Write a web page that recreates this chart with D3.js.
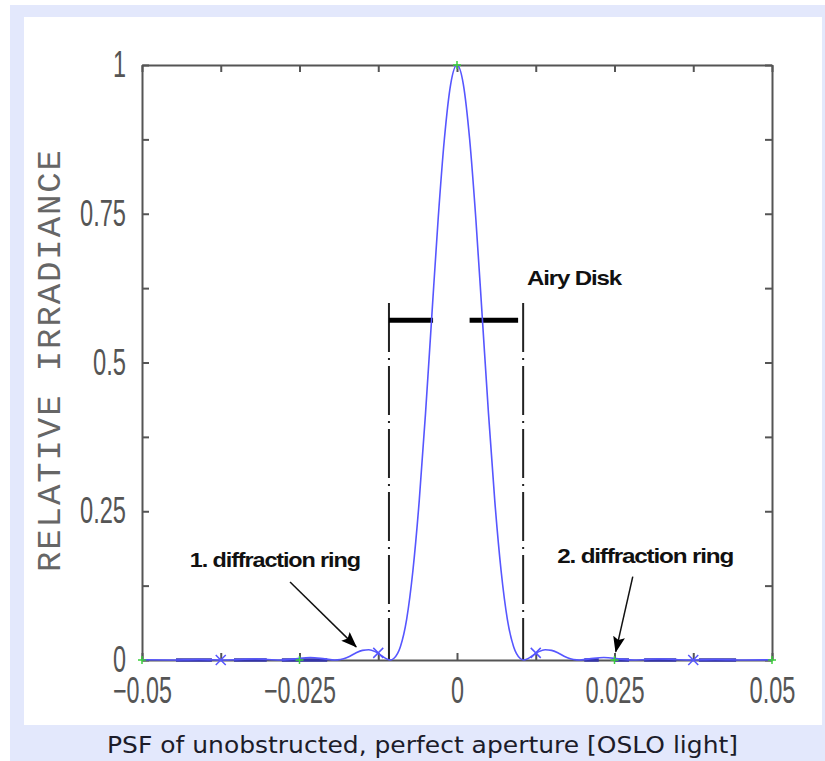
<!DOCTYPE html>
<html>
<head>
<meta charset="utf-8">
<script src="https://cdn.jsdelivr.net/npm/d3@7"></script>
<style>
  body { margin: 0; background: #fff; }
  svg { display: block; }
</style>
</head>
<body>
<svg id="chart" width="825" height="761"></svg>
<script>
// curve (position on image plane, relative irradiance)
const psfX = [-0.05, -0.0457, -0.041, -0.0369, -0.032, -0.0281, -0.026, -0.0233, -0.021, -0.0194,
  -0.019, -0.018, -0.017, -0.016, -0.015, -0.014, -0.013, -0.012, -0.0106, -0.010, -0.009, -0.008,
  -0.007, -0.006, -0.005, -0.004, -0.003, -0.002, -0.001, 0, 0.001, 0.002, 0.003, 0.004, 0.005,
  0.006, 0.007, 0.008, 0.009, 0.010, 0.0106, 0.012, 0.013, 0.014, 0.015, 0.016, 0.017, 0.018, 0.019,
  0.0194, 0.021, 0.0233, 0.026, 0.0281, 0.032, 0.0369, 0.041, 0.0457, 0.05];
const psfY = [0.0004, 0, 0.0008, 0, 0.0016, 0, 0.0015, 0.0042, 0.0019, 0,
  0.0002, 0.0022, 0.0064, 0.0122, 0.0162, 0.0173, 0.0141, 0.0072, 0, 0.003, 0.022, 0.068,
  0.150, 0.267, 0.414, 0.578, 0.740, 0.876, 0.968, 1.0, 0.968, 0.876, 0.740, 0.578, 0.414,
  0.267, 0.150, 0.068, 0.022, 0.003, 0, 0.0072, 0.0141, 0.0173, 0.0162, 0.0122, 0.0064, 0.0022, 0.0002,
  0, 0.0019, 0.0042, 0.0015, 0, 0.0016, 0, 0.0008, 0, 0.0004];

// point markers
const plusX = [-0.05, -0.025, 0, 0.025, 0.05];
const plusY = [0, 0, 1, 0, 0];
const crossX = [-0.0375, -0.0125, 0.0125, 0.0375];
const crossY = [0, 0.012, 0.012, 0];

// dark dashes lying on the zero line
const dashStart = [-0.0446, -0.0354, -0.0278, 0.0202, 0.0249, 0.0297, 0.0384];
const dashEnd = [-0.0389, -0.0302, -0.0206, 0.0225, 0.0273, 0.0348, 0.0443];

// axis ticks
const xTicks = [-0.05, -0.0375, -0.025, -0.0125, 0, 0.0125, 0.025, 0.0375, 0.05];
const xTickLabels = ["\u22120.05", "", "\u22120.025", "", "0", "", "0.025", "", "0.05"];
const yTicks = [0, 0.125, 0.25, 0.375, 0.5, 0.625, 0.75, 0.875, 1];
const yTickLabels = ["0", "", "0.25", "", "0.5", "", "0.75", "", "1"];

// Airy disk marking
const airyEdges = [-0.0108, 0.0105];
const airyTop = 0.60;
const airyBarY = 0.571;
const airyBarsX = [[-0.0108, -0.0038], [0.0020, 0.0097]];

// notes and arrows [x, y]
const notes = [
  { text: "Airy Disk", x: 0.0111, y: 0.630, len: 94 },
  { text: "1. diffraction ring", x: -0.0424, y: 0.156, len: 170 },
  { text: "2. diffraction ring", x: 0.0159, y: 0.163, len: 176 }
];
const arrows = [
  { from: [-0.0265, 0.131], to: [-0.0160, 0.022] },
  { from: [0.0279, 0.140], to: [0.0252, 0.014] }
];

const caption = "PSF of unobstructed, perfect aperture [OSLO light]";

const svg = d3.select("#chart");
const lavender = "#e3e8fc";

// frame
svg.append("rect").attr("x", 10).attr("y", 5).attr("width", 815).attr("height", 756).attr("fill", lavender);
svg.append("rect").attr("x", 24).attr("y", 17).attr("width", 798).attr("height", 708).attr("fill", "#fff");

var x = d3.scaleLinear().domain([-0.05, 0.05]).range([142, 772]);
var y = d3.scaleLinear().domain([0, 1]).range([660, 65]);

var axisColor = "#555";

// the plotter font is narrow: squeeze each label to its width
function labelWidth(s) {
  var w = 0;
  for (var c of s) {
    w += c === "." ? 7 : c === "\u2212" ? 13 : 13;
  }
  return w;
}

function styleAxis(g) {
  g.select(".domain").attr("stroke", axisColor).attr("stroke-width", 2);
  g.selectAll(".tick line").attr("stroke", axisColor).attr("stroke-width", 2);
  g.selectAll(".tick text")
    .attr("fill", "#555")
    .style("font-family", "'Liberation Sans', Arial, sans-serif")
    .style("font-size", "36px")
    .each(function () {
      var t = d3.select(this);
      if (t.text()) {
        t.attr("textLength", labelWidth(t.text())).attr("lengthAdjust", "spacingAndGlyphs");
      }
    });
}

svg.append("g")
  .attr("transform", "translate(0," + y(0) + ")")
  .call(d3.axisBottom(x).tickValues(xTicks).tickSize(-7).tickSizeOuter(0).tickPadding(17)
    .tickFormat(function (d, i) { return xTickLabels[i]; }))
  .call(styleAxis);

svg.append("g")
  .attr("transform", "translate(" + x(-0.05) + ",0)")
  .call(d3.axisLeft(y).tickValues(yTicks).tickSize(-7).tickSizeOuter(0).tickPadding(16)
    .tickFormat(function (d, i) { return yTickLabels[i]; }))
  .call(styleAxis);

svg.append("g")
  .attr("transform", "translate(0," + y(1) + ")")
  .call(d3.axisTop(x).tickValues(xTicks).tickSize(-7).tickSizeOuter(0).tickFormat(""))
  .call(styleAxis);

svg.append("g")
  .attr("transform", "translate(" + x(0.05) + ",0)")
  .call(d3.axisRight(y).tickValues(yTicks).tickSize(-7).tickSizeOuter(0).tickFormat(""))
  .call(styleAxis);

// y title
svg.append("text")
  .attr("transform", "translate(60,361) rotate(-90)")
  .attr("text-anchor", "middle")
  .attr("textLength", 422)
  .attr("lengthAdjust", "spacing")
  .style("font-family", "'Liberation Mono', 'Courier New', monospace")
  .style("font-size", "34px")
  .attr("fill", "#666")
  .text("RELATIVE IRRADIANCE");

// dashes on the zero line
svg.append("g")
  .selectAll("line")
  .data(dashStart)
  .enter()
  .append("line")
  .attr("x1", function (d) { return x(d); })
  .attr("x2", function (d, i) { return x(dashEnd[i]); })
  .attr("y1", y(0))
  .attr("y2", y(0))
  .attr("stroke", "#3434a8")
  .attr("stroke-width", 3.5);

// Airy disk marks
svg.append("g")
  .selectAll("line")
  .data(airyEdges)
  .enter()
  .append("line")
  .attr("x1", function (d) { return x(d); })
  .attr("x2", function (d) { return x(d); })
  .attr("y1", y(airyTop))
  .attr("y2", y(0))
  .attr("stroke", "#222")
  .attr("stroke-width", 2)
  .attr("stroke-dasharray", "49,6,2,6");

svg.append("g")
  .selectAll("line")
  .data(airyBarsX)
  .enter()
  .append("line")
  .attr("x1", function (d) { return x(d[0]); })
  .attr("x2", function (d) { return x(d[1]); })
  .attr("y1", y(airyBarY))
  .attr("y2", y(airyBarY))
  .attr("stroke", "#000")
  .attr("stroke-width", 5);

// PSF curve
var psf = psfX.map(function (d, i) { return [d, psfY[i]]; });
svg.append("path")
  .datum(psf)
  .attr("fill", "none")
  .attr("stroke", "#5656ff")
  .attr("stroke-width", 1.6)
  .attr("d", d3.line()
    .x(function (d) { return x(d[0]); })
    .y(function (d) { return y(d[1]); })
    .curve(d3.curveMonotoneX));

// markers
svg.append("g")
  .selectAll("path")
  .data(plusX)
  .enter()
  .append("path")
  .attr("transform", function (d, i) { return "translate(" + x(d) + "," + y(plusY[i]) + ")"; })
  .attr("d", "M-4,0H4M0,-4V4")
  .attr("stroke", "#3ccf3c")
  .attr("stroke-width", 1.5);

svg.append("g")
  .selectAll("path")
  .data(crossX)
  .enter()
  .append("path")
  .attr("transform", function (d, i) { return "translate(" + x(d) + "," + y(crossY[i]) + ")"; })
  .attr("d", "M-5,-5L5,5M-5,5L5,-5")
  .attr("stroke", "#5656ff")
  .attr("stroke-width", 1.5);

// arrows
svg.append("defs").append("marker")
  .attr("id", "head")
  .attr("viewBox", "0 0 16 12")
  .attr("refX", 15)
  .attr("refY", 6)
  .attr("markerWidth", 16)
  .attr("markerHeight", 12)
  .attr("markerUnits", "userSpaceOnUse")
  .attr("orient", "auto")
  .append("path")
  .attr("d", "M0,0L16,6L0,12L3,6Z")
  .attr("fill", "#000");

svg.append("g")
  .selectAll("line")
  .data(arrows)
  .enter()
  .append("line")
  .attr("x1", function (d) { return x(d.from[0]); })
  .attr("y1", function (d) { return y(d.from[1]); })
  .attr("x2", function (d) { return x(d.to[0]); })
  .attr("y2", function (d) { return y(d.to[1]); })
  .attr("stroke", "#111")
  .attr("stroke-width", 1.5)
  .attr("marker-end", "url(#head)");

// notes
svg.append("g")
  .selectAll("text")
  .data(notes)
  .enter()
  .append("text")
  .attr("x", function (d) { return x(d.x); })
  .attr("y", function (d) { return y(d.y); })
  .attr("textLength", function (d) { return d.len; })
  .attr("lengthAdjust", "spacingAndGlyphs")
  .style("font-family", "'Liberation Sans', Arial, sans-serif")
  .style("font-weight", "bold")
  .style("font-size", "21px")
  .style("letter-spacing", "-1px")
  .attr("fill", "#111")
  .text(function (d) { return d.text; });

// caption
svg.append("text")
  .attr("x", 107)
  .attr("y", 753)
  .attr("textLength", 631)
  .attr("lengthAdjust", "spacingAndGlyphs")
  .style("font-family", "'DejaVu Sans', Verdana, sans-serif")
  .style("font-size", "23px")
  .attr("fill", "#1c1c2a")
  .text(caption);
</script>
</body>
</html>
